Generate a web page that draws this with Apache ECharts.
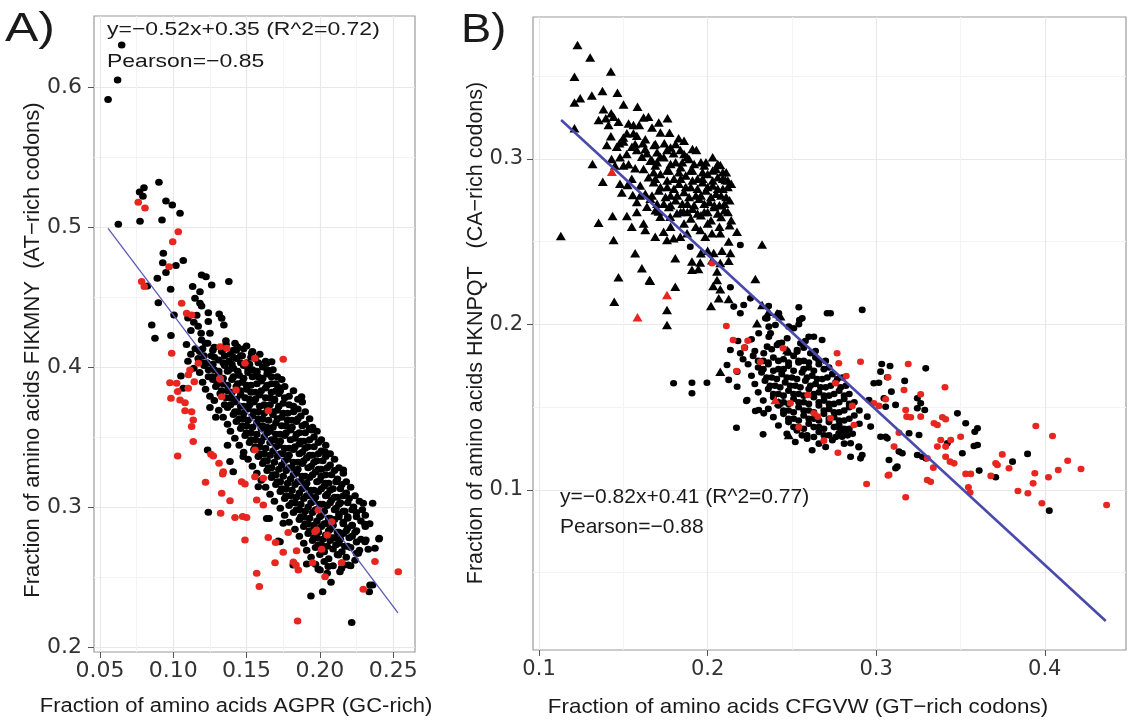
<!DOCTYPE html>
<html>
<head>
<meta charset="utf-8">
<script src="https://cdn.jsdelivr.net/npm/echarts@6/dist/echarts.min.js"></script>
<style>
html,body{margin:0;padding:0;background:#fff;}
#c{width:1128px;height:720px;}
</style>
</head>
<body>
<div id="c"></div>
<script>
// ---------- Panel A data ----------
const aXTicks = [0.05, 0.10, 0.15, 0.20, 0.25];
const aXMinor = [0.075, 0.125, 0.175, 0.225];
const aYTicks = [0.2, 0.3, 0.4, 0.5, 0.6];
const aYMinor = [0.25, 0.35, 0.45, 0.55];
const aFit = [[0.0555, 0.499], [0.2533, 0.2243]];
const aBlack = [
[0.0555,0.591],[0.062,0.605],[0.0648,0.630],[0.0625,0.502],
[0.077,0.525],[0.080,0.528],[0.0793,0.522],[0.0902,0.532],
[0.0773,0.504],[0.095,0.5186],[0.0993,0.5157],[0.1046,0.5098],[0.0923,0.505],
[0.0932,0.4812],[0.0928,0.4745],[0.1018,0.4724],[0.1068,0.476],[0.095,0.4674],[0.0891,0.4633],[0.0823,0.4579],[0.0982,0.4555],[0.0898,0.4459],[0.0853,0.43],[0.0875,0.4205],[0.0984,0.4224],[0.1005,0.4371],
[0.1193,0.4657],[0.1223,0.4645],[0.1262,0.4586],[0.1379,0.461],[0.1132,0.4574],[0.1182,0.4538],[0.1148,0.449],[0.1182,0.4455],[0.1193,0.4436],[0.1239,0.4388],[0.1313,0.4379],[0.133,0.4348],[0.1345,0.43],
[0.110,0.435],[0.114,0.432],[0.117,0.429],[0.112,0.426],[0.119,0.424],[0.116,0.437],[0.1239,0.4324],[0.125,0.424],[0.1234,0.4169],[0.1193,0.4193],[0.1359,0.4188],[0.1421,0.4169],[0.1437,0.4145],
[0.1535,0.4098],[0.1637,0.4026],[0.1671,0.4038],[0.1569,0.396],[0.1648,0.3966],[0.1052,0.3936],[0.1068,0.3848],[0.1716,0.3855],
[0.1239,0.2962],[0.1234,0.3407],[0.1939,0.2364],[0.2019,0.2395],[0.2217,0.2174],[0.2337,0.2395],[0.236,0.2443],[0.2314,0.2764],[0.2403,0.2771],[0.2296,0.3026],[0.236,0.3026],[0.2308,0.2876],[0.2262,0.2669],[0.233,0.2698],[0.2076,0.2462],[0.2137,0.2538],[0.216,0.2586],[0.1989,0.2557],[0.191,0.2593],[0.1875,0.3788],[0.1944,0.355],[0.2035,0.3395],[0.216,0.3264],[0.1716,0.2757],[0.1655,0.2917],[0.175,0.2883],
[0.1728,0.2752],[0.2001,0.255],[0.205,0.2526],[0.2057,0.2574],[0.2148,0.2562],[0.2194,0.2586],[0.2342,0.2443],[0.1818,0.2586],[0.2308,0.2752],[0.2376,0.2705],[0.2405,0.2776],[0.225,0.2669],[0.2126,0.2657],
[0.1387,0.3324],[0.1409,0.3252],[0.1477,0.336],[0.158,0.3145],[0.1637,0.2917],[0.125,0.371],[0.129,0.364],[0.137,0.344],
[0.109,0.416],[0.115,0.413],[0.122,0.417],[0.128,0.414],[0.136,0.416],[0.143,0.412],[0.150,0.415],
[0.112,0.409],[0.118,0.411],[0.126,0.408],[0.133,0.411],[0.139,0.409],[0.146,0.408],[0.154,0.411],[0.159,0.409],
[0.110,0.404],[0.117,0.406],[0.123,0.403],[0.131,0.405],[0.138,0.404],[0.143,0.406],[0.150,0.403],[0.156,0.406],[0.163,0.404],
[0.114,0.399],[0.121,0.401],[0.128,0.398],[0.135,0.401],[0.141,0.399],[0.148,0.401],[0.154,0.398],[0.161,0.400],[0.168,0.398],
[0.118,0.396],[0.124,0.393],[0.131,0.395],[0.137,0.397],[0.145,0.394],[0.151,0.396],[0.158,0.393],[0.164,0.395],[0.171,0.393],
[0.120,0.389],[0.127,0.391],[0.134,0.388],[0.140,0.391],[0.147,0.389],[0.153,0.387],[0.160,0.390],[0.167,0.388],[0.174,0.391],
[0.122,0.384],[0.129,0.386],[0.137,0.383],[0.143,0.386],[0.150,0.384],[0.156,0.382],[0.163,0.385],[0.170,0.383],[0.176,0.386],[0.182,0.383],
[0.125,0.379],[0.132,0.381],[0.139,0.378],[0.146,0.380],[0.152,0.377],[0.159,0.380],[0.166,0.378],[0.172,0.381],[0.179,0.379],[0.185,0.377],
[0.128,0.376],[0.135,0.373],[0.142,0.375],[0.148,0.372],[0.155,0.375],[0.162,0.373],[0.169,0.376],[0.175,0.374],[0.182,0.372],[0.188,0.375],
[0.131,0.369],[0.137,0.371],[0.144,0.368],[0.151,0.370],[0.158,0.368],[0.164,0.371],[0.171,0.369],[0.178,0.367],[0.185,0.370],[0.190,0.368],
[0.134,0.364],[0.141,0.366],[0.148,0.363],[0.154,0.365],[0.161,0.363],[0.168,0.366],[0.174,0.364],[0.181,0.362],[0.187,0.365],[0.193,0.363],
[0.137,0.359],[0.143,0.361],[0.150,0.358],[0.157,0.360],[0.164,0.357],[0.170,0.360],[0.177,0.358],[0.184,0.361],[0.190,0.359],[0.195,0.357],
[0.139,0.354],[0.146,0.356],[0.153,0.353],[0.160,0.356],[0.166,0.354],[0.173,0.352],[0.180,0.355],[0.186,0.353],[0.193,0.356],[0.198,0.354],
[0.142,0.349],[0.149,0.351],[0.156,0.348],[0.162,0.350],[0.169,0.348],[0.176,0.351],[0.183,0.349],[0.189,0.347],[0.196,0.350],[0.201,0.348],
[0.145,0.344],[0.152,0.346],[0.159,0.343],[0.166,0.346],[0.172,0.344],[0.179,0.342],[0.186,0.345],[0.192,0.343],[0.199,0.346],[0.204,0.344],
[0.148,0.339],[0.155,0.341],[0.162,0.338],[0.168,0.340],[0.175,0.338],[0.182,0.341],[0.188,0.339],[0.195,0.337],[0.201,0.340],[0.207,0.338],
[0.151,0.334],[0.158,0.336],[0.164,0.333],[0.171,0.336],[0.178,0.334],[0.185,0.332],[0.191,0.335],[0.198,0.333],[0.204,0.336],[0.210,0.334],
[0.154,0.329],[0.161,0.331],[0.167,0.328],[0.174,0.330],[0.181,0.328],[0.188,0.331],[0.194,0.329],[0.201,0.327],[0.207,0.330],[0.213,0.328],
[0.157,0.324],[0.164,0.326],[0.170,0.323],[0.177,0.326],[0.184,0.324],[0.190,0.322],[0.197,0.325],[0.204,0.323],[0.210,0.326],[0.216,0.324],
[0.160,0.319],[0.167,0.321],[0.173,0.318],[0.180,0.320],[0.187,0.318],[0.193,0.321],[0.200,0.319],[0.206,0.317],[0.212,0.320],[0.218,0.318],
[0.163,0.314],[0.170,0.316],[0.177,0.313],[0.183,0.316],[0.190,0.314],[0.196,0.312],[0.203,0.315],[0.209,0.313],[0.215,0.316],[0.221,0.314],
[0.166,0.309],[0.173,0.311],[0.180,0.308],[0.186,0.310],[0.193,0.308],[0.199,0.311],[0.205,0.309],[0.212,0.307],[0.218,0.310],[0.224,0.308],
[0.169,0.304],[0.176,0.306],[0.183,0.303],[0.189,0.306],[0.196,0.304],[0.202,0.302],[0.208,0.305],[0.214,0.303],[0.220,0.306],[0.227,0.304],
[0.173,0.299],[0.179,0.301],[0.186,0.298],[0.192,0.300],[0.198,0.298],[0.205,0.301],[0.211,0.299],[0.217,0.297],[0.223,0.300],[0.229,0.298],
[0.176,0.294],[0.182,0.296],[0.189,0.293],[0.195,0.296],[0.201,0.294],[0.207,0.292],[0.213,0.295],[0.219,0.293],[0.225,0.296],[0.231,0.294],
[0.179,0.289],[0.186,0.291],[0.192,0.288],[0.198,0.290],[0.204,0.288],[0.210,0.291],[0.216,0.289],[0.222,0.287],[0.228,0.290],[0.234,0.288],
[0.183,0.284],[0.189,0.286],[0.195,0.283],[0.201,0.286],[0.207,0.284],[0.213,0.282],[0.219,0.285],[0.225,0.283],[0.231,0.286],
[0.186,0.279],[0.192,0.281],[0.198,0.278],[0.204,0.280],[0.210,0.278],[0.216,0.281],[0.222,0.279],[0.228,0.277],
[0.189,0.274],[0.195,0.276],[0.201,0.273],[0.207,0.276],[0.213,0.274],[0.219,0.272],[0.225,0.275],
[0.191,0.269],[0.197,0.271],[0.203,0.268],[0.209,0.270],[0.215,0.268],[0.221,0.271],[0.227,0.269],
[0.194,0.264],[0.200,0.266],[0.206,0.263],[0.212,0.266],[0.218,0.264],[0.224,0.262],
[0.197,0.259],[0.203,0.261],[0.209,0.258],[0.215,0.260],[0.221,0.258],
[0.120,0.413],[0.127,0.412],[0.134,0.413],[0.141,0.412],[0.148,0.413],
[0.121,0.408],[0.128,0.407],[0.135,0.408],[0.141,0.407],[0.147,0.408],[0.153,0.407],
[0.120,0.403],[0.127,0.402],[0.134,0.403],[0.140,0.402],[0.146,0.403],[0.152,0.402],[0.158,0.403],
[0.124,0.398],[0.131,0.397],[0.138,0.398],[0.144,0.397],[0.151,0.398],[0.157,0.397],[0.164,0.398],
[0.127,0.393],[0.134,0.392],[0.141,0.393],[0.148,0.392],[0.154,0.393],[0.161,0.392],[0.167,0.393],
[0.130,0.388],[0.137,0.387],[0.144,0.388],[0.150,0.387],[0.157,0.388],[0.164,0.387],[0.170,0.388],
[0.133,0.383],[0.140,0.382],[0.146,0.383],[0.153,0.382],[0.160,0.383],[0.167,0.382],[0.173,0.383],
[0.136,0.378],[0.143,0.377],[0.149,0.378],[0.156,0.377],[0.163,0.378],[0.169,0.377],[0.176,0.378],
[0.139,0.373],[0.146,0.372],[0.152,0.373],[0.159,0.372],[0.166,0.373],[0.172,0.372],[0.179,0.373],
[0.142,0.368],[0.148,0.367],[0.155,0.368],[0.162,0.367],[0.168,0.368],[0.175,0.367],[0.182,0.368],
[0.145,0.363],[0.151,0.362],[0.158,0.363],[0.165,0.362],[0.171,0.363],[0.178,0.362],[0.185,0.363],
[0.147,0.358],[0.154,0.357],[0.161,0.358],[0.168,0.357],[0.174,0.358],[0.181,0.357],[0.188,0.358],
[0.150,0.353],[0.157,0.352],[0.164,0.353],[0.170,0.352],[0.177,0.353],[0.184,0.352],[0.190,0.353],
[0.153,0.348],[0.160,0.347],[0.167,0.348],[0.173,0.347],[0.180,0.348],[0.187,0.347],[0.193,0.348],
[0.156,0.343],[0.163,0.342],[0.170,0.343],[0.176,0.342],[0.183,0.343],[0.190,0.342],[0.196,0.343],
[0.159,0.338],[0.166,0.337],[0.173,0.338],[0.179,0.337],[0.186,0.338],[0.193,0.337],[0.199,0.338],
[0.162,0.333],[0.169,0.332],[0.176,0.333],[0.182,0.332],[0.189,0.333],[0.196,0.332],[0.202,0.333],
[0.165,0.328],[0.172,0.327],[0.179,0.328],[0.185,0.327],[0.192,0.328],[0.199,0.327],[0.205,0.328],
[0.168,0.323],[0.175,0.322],[0.182,0.323],[0.188,0.322],[0.195,0.323],[0.201,0.322],[0.208,0.323],
[0.171,0.318],[0.178,0.317],[0.185,0.318],[0.191,0.317],[0.198,0.318],[0.204,0.317],[0.211,0.318],
[0.174,0.313],[0.181,0.312],[0.188,0.313],[0.194,0.312],[0.201,0.313],[0.207,0.312],[0.214,0.313],
[0.177,0.308],[0.184,0.307],[0.191,0.308],[0.197,0.307],[0.204,0.308],[0.210,0.307],[0.216,0.308],
[0.181,0.303],[0.187,0.302],[0.194,0.303],[0.200,0.302],[0.207,0.303],[0.213,0.302],[0.219,0.303],
[0.184,0.298],[0.190,0.297],[0.197,0.298],[0.203,0.297],[0.210,0.298],[0.216,0.297],[0.222,0.298],
[0.187,0.293],[0.193,0.292],[0.200,0.293],[0.206,0.292],[0.213,0.293],[0.219,0.292],[0.225,0.293],
[0.190,0.288],[0.196,0.287],[0.203,0.288],[0.209,0.287],[0.216,0.288],[0.222,0.287],
[0.193,0.283],[0.199,0.282],[0.206,0.283],[0.212,0.282],[0.218,0.283],[0.224,0.282],
[0.196,0.278],[0.202,0.277],[0.208,0.278],[0.214,0.277],[0.220,0.278],
[0.199,0.273],[0.205,0.272],[0.211,0.273],[0.217,0.272]
];
const aRed = [
[0.0761,0.5176],[0.0807,0.5136],[0.1034,0.4966],[0.0996,0.4895],[0.0971,0.4716],[0.0784,0.461],[0.0802,0.4574],[0.1057,0.4455],[0.1091,0.4383],[0.1125,0.4371],[0.0989,0.4098],[0.175,0.4055],[0.1489,0.4026],[0.1557,0.4062],[0.1319,0.4145],[0.1364,0.4133],[0.1171,0.4026],[0.1319,0.3912],[0.1103,0.3945],
[0.0977,0.3888],[0.1023,0.3883],[0.103,0.3824],[0.0984,0.3776],[0.1046,0.3764],[0.108,0.3745],[0.108,0.3688],[0.1125,0.3681],[0.1136,0.3621],[0.1125,0.3574],[0.1136,0.3467],[0.103,0.3364],[0.1102,0.3848],[0.1143,0.3895],[0.1114,0.3979],
[0.122,0.3176],[0.1323,0.2955],[0.133,0.3098],[0.1387,0.3045],[0.1421,0.2924],[0.1473,0.2931],[0.15,0.2924],[0.1489,0.2764],[0.1466,0.318],[0.1489,0.3164],[0.1312,0.3312],[0.1341,0.3252],[0.1337,0.3236],[0.1257,0.3376],[0.1273,0.3364],
[0.1569,0.2526],[0.1587,0.2431],[0.1648,0.2781],[0.1698,0.2746],[0.1694,0.2602],[0.175,0.2676],[0.1784,0.2817],[0.1841,0.2688],[0.1853,0.255],[0.1819,0.2607],[0.1837,0.2586],[0.1848,0.2186],[0.195,0.2602],[0.2035,0.2502],[0.1569,0.305],[0.1614,0.3014],[0.1557,0.3216],[0.1614,0.3205],[0.1557,0.3407],[0.1648,0.3688],[0.1428,0.3836],[0.133,0.3788],[0.1319,0.3919],
[0.1967,0.2824],[0.1989,0.2979],[0.208,0.2895],[0.2148,0.2602],[0.2296,0.2412],[0.2376,0.261],[0.2535,0.2538],[0.2012,0.2698],[0.205,0.28],[0.1977,0.2836]
];

// ---------- Panel B data ----------
const bXTicks = [0.1, 0.2, 0.3, 0.4];
const bXMinor = [0.15, 0.25, 0.35];
const bYTicks = [0.1, 0.2, 0.3];
const bYMinor = [0.05, 0.15, 0.25, 0.35];
const bFit = [[0.1131, 0.3236], [0.4362, 0.0208]];
const bTriBlack = [
[0.1228,0.3689],[0.1303,0.3614],[0.121,0.3497],[0.1426,0.3528],[0.121,0.3341],[0.1244,0.3367],[0.1313,0.3383],[0.1376,0.3411],[0.1465,0.3401],[0.1382,0.33],[0.1428,0.3276],[0.1501,0.333],[0.1584,0.3316],
[0.1353,0.3236],[0.1396,0.3246],[0.1412,0.3205],[0.1442,0.3256],[0.1471,0.3225],[0.1531,0.3215],[0.156,0.3205],[0.1594,0.3205],[0.1649,0.3256],[0.1762,0.3246],[0.121,0.3185],[0.1774,0.3159],[0.1828,0.3125],
[0.1426,0.3137],[0.1477,0.3095],[0.1521,0.3156],[0.156,0.3156],[0.1402,0.3085],[0.1461,0.3074],[0.1501,0.3105],[0.1551,0.3074],[0.1616,0.3095],[0.1683,0.3085],[0.1743,0.3095],
[0.158,0.3054],[0.161,0.3014],[0.164,0.3034],[0.1669,0.2994],[0.1719,0.3014],[0.1759,0.3054],[0.1798,0.3034],[0.1838,0.3054],[0.1878,0.3014],[0.1933,0.3054],
[0.1317,0.297],[0.1378,0.2863],[0.1501,0.296],[0.1531,0.2968],[0.157,0.2944],[0.1491,0.2797],[0.1525,0.2843],[0.1556,0.2782],[0.1353,0.2615],[0.1436,0.2656],[0.1129,0.2535],[0.1442,0.2511],[0.1521,0.2656],[0.157,0.243],[0.161,0.234],[0.1659,0.2265],[0.1471,0.2285],[0.1446,0.2138],[0.1759,0.2088],[0.1759,0.1997],[0.1808,0.2228],[0.2323,0.2484],[0.2283,0.2275],[0.2323,0.2118],[0.2362,0.2077],[0.2412,0.2068],
[0.164,0.2712],[0.1709,0.2682],[0.1719,0.2651],[0.1778,0.2651],[0.1818,0.2672],[0.1857,0.2682],
[0.163,0.2571],[0.1689,0.253],[0.1739,0.2561],[0.1759,0.2511],[0.1798,0.2521],[0.1838,0.253],[0.1878,0.2551],
[0.1957,0.2571],[0.1986,0.253],[0.2026,0.2551],[0.2075,0.2551],[0.2125,0.2501],[0.2174,0.2561],
[0.2,0.2445],[0.2036,0.2432],[0.2085,0.2446],[0.2135,0.2432],[0.196,0.243],
[0.1907,0.238],[0.1956,0.2375],[0.2026,0.2388],[0.2075,0.2372],[0.2125,0.2385],
[0.1808,0.24],[0.1907,0.233],[0.1945,0.2335],[0.2056,0.232],[0.1655,0.2269],[0.2056,0.2269],[0.2033,0.2233],[0.2075,0.2213],[0.2066,0.2158],[0.2125,0.2154],[0.202,0.2112],[0.2293,0.2007],[0.2481,0.1836],[0.2432,0.205],[0.2481,0.1332],[0.2075,0.1715],[0.2422,0.153],[0.2472,0.1846],
[0.2075,0.2964],[0.2105,0.2873],
[0.163,0.306],[0.170,0.304],[0.178,0.307],[0.186,0.303],[0.191,0.306],
[0.166,0.299],[0.174,0.301],[0.181,0.298],[0.189,0.300],[0.196,0.298],[0.203,0.301],
[0.162,0.294],[0.169,0.296],[0.177,0.293],[0.184,0.295],[0.191,0.293],[0.198,0.296],[0.205,0.294],[0.211,0.292],
[0.165,0.289],[0.172,0.291],[0.180,0.288],[0.187,0.290],[0.194,0.288],[0.200,0.291],[0.206,0.289],[0.212,0.287],
[0.160,0.284],[0.168,0.286],[0.176,0.283],[0.183,0.285],[0.190,0.283],[0.197,0.286],[0.203,0.284],[0.209,0.282],[0.214,0.285],
[0.163,0.279],[0.171,0.281],[0.178,0.278],[0.186,0.280],[0.193,0.278],[0.199,0.281],[0.205,0.279],[0.211,0.277],
[0.158,0.274],[0.166,0.276],[0.174,0.273],[0.181,0.275],[0.188,0.273],[0.195,0.276],[0.201,0.274],[0.207,0.272],[0.213,0.275],
[0.169,0.269],[0.177,0.271],[0.184,0.268],[0.191,0.270],[0.198,0.268],[0.204,0.271],[0.210,0.269],
[0.190,0.264],[0.196,0.266],[0.202,0.263],[0.208,0.265],[0.214,0.263],
[0.155,0.259],[0.162,0.261],[0.178,0.259],[0.186,0.261],[0.193,0.259],[0.200,0.261],[0.207,0.259],[0.213,0.260],
[0.170,0.298],[0.178,0.297],[0.185,0.298],[0.192,0.297],[0.199,0.298],[0.206,0.297],
[0.168,0.292],[0.176,0.293],[0.183,0.292],[0.190,0.293],[0.197,0.292],[0.203,0.293],[0.209,0.292],
[0.169,0.288],[0.176,0.287],[0.184,0.288],[0.191,0.287],[0.197,0.288],[0.203,0.287],[0.209,0.288],
[0.172,0.283],[0.180,0.282],[0.187,0.283],[0.194,0.282],[0.200,0.283],[0.206,0.282],[0.212,0.283],
[0.167,0.278],[0.175,0.277],[0.182,0.278],[0.189,0.277],[0.196,0.278],[0.202,0.277],[0.208,0.278],
[0.170,0.273],[0.178,0.272],[0.185,0.273],[0.192,0.272],[0.198,0.273],[0.204,0.272],[0.210,0.273],
[0.188,0.268],[0.194,0.267],[0.200,0.268],[0.206,0.267],[0.212,0.268],
[0.152,0.303],[0.157,0.309],[0.163,0.312],[0.169,0.309],[0.172,0.316],[0.167,0.319],[0.158,0.314],[0.181,0.309],[0.186,0.311],[0.148,0.301],[0.145,0.296],[0.155,0.288],[0.160,0.278],[0.158,0.268],[0.148,0.285],[0.143,0.300],[0.150,0.313],[0.162,0.325],[0.171,0.322]
];
const bTriRed = [[0.1432,0.2923],[0.1584,0.2043],[0.1759,0.2178],[0.2402,0.1544]];
const bCircBlack = [
[0.2194,0.248],[0.1897,0.247],[0.2135,0.2225],[0.2254,0.2158],[0.2155,0.2108],[0.2194,0.2068],[0.2214,0.2118],[0.2362,0.2112],[0.2422,0.2068],[0.2541,0.2104],[0.2561,0.2037],[0.2541,0.2001],[0.2709,0.2068],[0.2729,0.2068],[0.2353,0.2037],[0.2402,0.1997],[0.2481,0.1987],[0.2511,0.1977],[0.2373,0.1947],[0.2412,0.1876],[0.2353,0.1866],[0.2472,0.1917],[0.263,0.1926],[0.2679,0.1906],[0.2135,0.1846],[0.2194,0.1826],[0.2333,0.1826],[0.2531,0.1846],[0.261,0.1826],
[0.1798,0.1645],[0.1907,0.1648],[0.1996,0.1648],[0.1907,0.1584],[0.2125,0.1665],[0.2175,0.1624],[0.2115,0.1755],[0.2175,0.1715],[0.223,0.1538],[0.2171,0.1376],[0.2329,0.1336],[0.2283,0.1477],[0.2333,0.1463],
[0.2343,0.2037],[0.2363,0.1987],[0.2303,0.1947],[0.2363,0.1926],[0.2422,0.1886],[0.2472,0.1836],[0.2531,0.1836],[0.2551,0.1886],
[0.2917,0.2088],[0.2848,0.1201],[0.2897,0.1258],[0.3033,0.1761],[0.3082,0.1749],[0.3026,0.1715],[0.3066,0.1681],[0.309,0.1594],[0.2957,0.1544],[0.2986,0.1645],[0.3016,0.1648],
[0.2545,0.2027],[0.26,0.1926],
[0.3294,0.1735],[0.3169,0.1659],[0.3046,0.1554],[0.3056,0.1503],[0.3115,0.1514],[0.3244,0.1554],[0.3264,0.1524],[0.3244,0.1494],[0.3288,0.1483],[0.3482,0.1463],[0.3531,0.1403],[0.3585,0.1352],[0.3601,0.1373],[0.3422,0.1282],[0.358,0.1266],[0.3601,0.1272],[0.3511,0.1222],[0.3254,0.1332],[0.3195,0.1343],[0.3155,0.1222],[0.3076,0.1181],[0.3115,0.1131],[0.3244,0.1211],[0.3274,0.1201],[0.3294,0.1191],[0.3611,0.1117],[0.3709,0.1077],[0.3809,0.1171],[0.3898,0.1218],[0.4027,0.0875],
[0.2848,0.1282],[0.2897,0.1262],[0.2917,0.1211],[0.2907,0.1191],[0.2778,0.1343],[0.2798,0.1322],[0.2818,0.1352],[0.2768,0.1383],
[0.2947,0.1443],[0.2967,0.1383],[0.3026,0.1322],[0.3056,0.1322],[0.3066,0.1312],[0.3135,0.1232],[0.3125,0.1141],[0.2234,0.1544],[0.2303,0.1483],
[0.218,0.190],[0.226,0.191],[0.244,0.189],[0.258,0.190],
[0.222,0.186],[0.228,0.184],[0.238,0.185],[0.257,0.186],[0.264,0.184],
[0.221,0.179],[0.227,0.181],[0.233,0.178],[0.239,0.180],[0.245,0.179],[0.251,0.181],[0.257,0.178],[0.264,0.180],[0.270,0.178],
[0.224,0.176],[0.230,0.174],[0.236,0.176],[0.242,0.173],[0.248,0.175],[0.254,0.177],[0.260,0.174],[0.266,0.176],[0.272,0.174],
[0.226,0.169],[0.232,0.171],[0.238,0.168],[0.244,0.170],[0.250,0.168],[0.256,0.171],[0.262,0.169],[0.268,0.167],[0.274,0.170],[0.280,0.168],
[0.228,0.164],[0.234,0.166],[0.240,0.163],[0.246,0.165],[0.252,0.163],[0.258,0.166],[0.264,0.164],[0.270,0.162],[0.276,0.165],[0.282,0.163],
[0.230,0.159],[0.236,0.161],[0.242,0.158],[0.248,0.160],[0.254,0.158],[0.260,0.161],[0.266,0.159],[0.272,0.157],[0.278,0.160],[0.284,0.158],
[0.233,0.154],[0.239,0.156],[0.245,0.153],[0.251,0.155],[0.257,0.153],[0.263,0.156],[0.269,0.154],[0.275,0.152],[0.281,0.155],[0.287,0.153],
[0.236,0.149],[0.242,0.151],[0.248,0.148],[0.254,0.150],[0.260,0.148],[0.266,0.151],[0.272,0.149],[0.278,0.147],[0.284,0.150],[0.290,0.148],
[0.239,0.144],[0.245,0.146],[0.251,0.143],[0.257,0.145],[0.263,0.143],[0.269,0.146],[0.275,0.144],[0.281,0.142],[0.287,0.145],
[0.242,0.139],[0.248,0.141],[0.254,0.138],[0.260,0.140],[0.266,0.138],[0.272,0.141],[0.278,0.139],[0.284,0.137],[0.290,0.140],
[0.247,0.134],[0.253,0.136],[0.259,0.133],[0.266,0.135],[0.272,0.133],[0.279,0.136],[0.286,0.134],
[0.252,0.129],[0.259,0.131],[0.266,0.128],[0.274,0.130],[0.281,0.128],
[0.262,0.124],[0.270,0.126],
[0.230,0.178],[0.236,0.177],[0.242,0.178],[0.248,0.177],[0.254,0.178],[0.260,0.177],[0.266,0.178],
[0.233,0.173],[0.239,0.172],[0.245,0.173],[0.251,0.172],[0.257,0.173],[0.263,0.172],[0.269,0.173],
[0.235,0.168],[0.241,0.167],[0.247,0.168],[0.253,0.167],[0.259,0.168],[0.265,0.167],[0.271,0.168],[0.277,0.167],
[0.237,0.163],[0.243,0.162],[0.249,0.163],[0.255,0.162],[0.261,0.163],[0.267,0.162],[0.273,0.163],[0.279,0.162],
[0.239,0.158],[0.245,0.157],[0.251,0.158],[0.257,0.157],[0.263,0.158],[0.269,0.157],[0.275,0.158],[0.281,0.157],
[0.242,0.153],[0.248,0.152],[0.254,0.153],[0.260,0.152],[0.266,0.153],[0.272,0.152],[0.278,0.153],[0.284,0.152],
[0.245,0.148],[0.251,0.147],[0.257,0.148],[0.263,0.147],[0.269,0.148],[0.275,0.147],[0.281,0.148],
[0.248,0.143],[0.254,0.142],[0.260,0.143],[0.266,0.142],[0.272,0.143],[0.278,0.142],[0.284,0.143],
[0.251,0.138],[0.257,0.137],[0.263,0.138],[0.269,0.137],[0.275,0.138],[0.281,0.137],
[0.256,0.133],[0.263,0.132],[0.269,0.133],[0.276,0.132],[0.283,0.133]
];
const bCircRed = [
[0.2026,0.237],[0.2111,0.1991],[0.2151,0.1906],[0.2238,0.1902],[0.2218,0.186],[0.2448,0.1856],[0.2768,0.1826],[0.2778,0.1766],[0.2907,0.1775],[0.307,0.1681],[0.3056,0.1548],[0.2986,0.1524],[0.3016,0.1508],[0.2858,0.1508],[0.2759,0.1645],[0.263,0.1463],[0.2654,0.1443],[0.2729,0.1433],[0.2594,0.1574],[0.2491,0.1524],[0.2171,0.1719],[0.2313,0.1775],[0.3135,0.1346],[0.3106,0.1262],[0.3076,0.1091],[0.2868,0.1393],[0.2541,0.1379],[0.269,0.1298],[0.2773,0.1225],[0.2822,0.1689],
[0.319,0.1761],[0.3165,0.1604],[0.3408,0.1621],[0.3264,0.1578],[0.3175,0.1483],[0.3181,0.1443],[0.3205,0.1439],[0.3264,0.1443],[0.3343,0.1403],[0.3363,0.1393],[0.3393,0.1439],[0.3412,0.1427],[0.3383,0.1302],[0.3412,0.1262],[0.3363,0.1262],[0.3442,0.1302],[0.3501,0.1322],[0.3303,0.1191],[0.3412,0.1201],[0.3438,0.1171],[0.3462,0.1161],[0.3339,0.1135],[0.3303,0.106],[0.3323,0.105],[0.3531,0.1097],[0.3561,0.1097],[0.3547,0.1016],[0.3557,0.0984],[0.3175,0.0956],[0.307,0.1087],[0.2943,0.1036],[0.3748,0.1215],[0.3709,0.1161],[0.3719,0.1151],[0.3788,0.1131],[0.368,0.1085],[0.3841,0.0994],[0.39,0.098],[0.3931,0.104],[0.3941,0.1101],[0.3947,0.1387],[0.4046,0.1326],[0.4022,0.1077],[0.408,0.1121],[0.4136,0.1177],[0.4215,0.1127],[0.3983,0.092],[0.4367,0.0909]
];

const FONT = "'Liberation Sans', Arial, Helvetica, sans-serif";
const TICKFONT = "'DejaVu Sans', 'Liberation Sans', sans-serif";
const TXT = '#333333';
const GRID_MAJOR = '#e8e8e8';
const GRID_MINOR = '#f3f3f3';
const BLACK = '#000000';
const RED = '#e6261f';

function majorAxis(gridIndex, min, max, ticks, digits, isX, fs, margin) {
  return {
    type: 'value', gridIndex: gridIndex, min: min, max: max,
    position: isX ? 'bottom' : 'left',
    axisLine: { show: false },
    axisTick: { show: true, length: 6, lineStyle: { color: '#555', width: 1 }, customValues: ticks },
    axisLabel: { show: true, customValues: ticks, margin: margin, fontSize: fs, fontFamily: TICKFONT, color: TXT,
      formatter: function (v) { return v.toFixed(digits); } },
    splitLine: { show: true, lineStyle: { color: GRID_MAJOR, width: 1.2 } }
  };
}
function minorAxis(gridIndex, min, max, ticks, isX) {
  return {
    type: 'value', gridIndex: gridIndex, min: min, max: max,
    position: isX ? 'top' : 'right',
    axisLine: { show: false },
    axisTick: { show: false, customValues: ticks },
    axisLabel: { show: false, customValues: ticks },
    splitLine: { show: true, lineStyle: { color: GRID_MINOR, width: 1 } }
  };
}
function dots(name, data, xi, yi, color, symbol, size, z) {
  return { name: name, type: 'scatter', xAxisIndex: xi, yAxisIndex: yi, data: data,
    symbol: symbol, symbolSize: size, itemStyle: { color: color, opacity: 1 }, z: z, silent: true, clip: false };
}
function fitLine(data, xi, yi, color, width) {
  return { type: 'line', xAxisIndex: xi, yAxisIndex: yi, data: data, showSymbol: false, symbol: 'none',
    lineStyle: { color: color, width: width }, z: 10, silent: true };
}
function label(x, y, text, fs, sx, align, rot) {
  return { type: 'text', x: x, y: y, scaleX: sx, rotation: rot || 0, z: 100,
    style: { text: text, fontSize: fs, fontFamily: FONT, fill: '#1a1a1a',
      textAlign: align, align: align, textVerticalAlign: 'middle', verticalAlign: 'middle' } };
}

const chart = echarts.init(document.getElementById('c'), null, { renderer: 'canvas', width: 1128, height: 720 });
chart.setOption({
  animation: false,
  backgroundColor: '#ffffff',
  grid: [
    { left: 94, top: 16, width: 321, height: 636, show: true, borderColor: '#9a9a9a', borderWidth: 1.2, backgroundColor: 'transparent' },
    { left: 533, top: 17, width: 593, height: 633, show: true, borderColor: '#9a9a9a', borderWidth: 1.2, backgroundColor: 'transparent' }
  ],
  xAxis: [
    majorAxis(0, 0.0459, 0.2649, aXTicks, 2, true, 22, 8),
    minorAxis(0, 0.0459, 0.2649, aXMinor, true),
    majorAxis(1, 0.0964, 0.4482, bXTicks, 1, true, 21, 9),
    minorAxis(1, 0.0964, 0.4482, bXMinor, true)
  ],
  yAxis: [
    majorAxis(0, 0.1964, 0.6507, aYTicks, 1, false, 22, 12),
    minorAxis(0, 0.1964, 0.6507, aYMinor, false),
    majorAxis(1, 0.0033, 0.3858, bYTicks, 1, false, 21, 10),
    minorAxis(1, 0.0033, 0.3858, bYMinor, false)
  ],
  series: [
    dots('A black', aBlack, 0, 0, BLACK, 'circle', [7.6, 7], 3),
    dots('A red', aRed, 0, 0, RED, 'circle', [7.6, 7], 4),
    fitLine(aFit, 0, 0, '#5a5ab6', 1.3),
    dots('B triangles', bTriBlack, 2, 2, BLACK, 'triangle', [10, 8.5], 3),
    dots('B circles', bCircBlack, 2, 2, BLACK, 'circle', [7, 6.6], 3),
    dots('B red triangles', bTriRed, 2, 2, RED, 'triangle', [10, 8.5], 4),
    dots('B red circles', bCircRed, 2, 2, RED, 'circle', [7, 6.6], 4),
    fitLine(bFit, 2, 2, '#4a4aac', 2.6)
  ],
  graphic: [
    label(5, 30, 'A)', 40, 1.25, 'left'),
    label(461, 31, 'B)', 40, 1.13, 'left'),
    label(107, 30, 'y=\u22120.52x+0.35 (R^2=0.72)', 19, 1.21, 'left'),
    label(107, 62, 'Pearson=\u22120.85', 19, 1.21, 'left'),
    label(560, 497, 'y=\u22120.82x+0.41 (R^2=0.77)', 21, 1.0, 'left'),
    label(560, 527, 'Pearson=\u22120.88', 21, 1.0, 'left'),
    label(236, 706, 'Fraction of amino acids AGPR (GC-rich)', 20, 1.1, 'center'),
    label(798, 707, 'Fraction of amino acids CFGVW (GT\u2212rich codons)', 21, 1.065, 'center'),
    label(33, 350, 'Fraction of amino acids FIKMNY  (AT\u2212rich codons)', 22, 1, 'center', Math.PI / 2),
    label(476, 333, 'Fraction of amino acids HKNPQT   (CA\u2212rich codons)', 21.5, 1, 'center', Math.PI / 2)
  ]
});
</script>
</body>
</html>
